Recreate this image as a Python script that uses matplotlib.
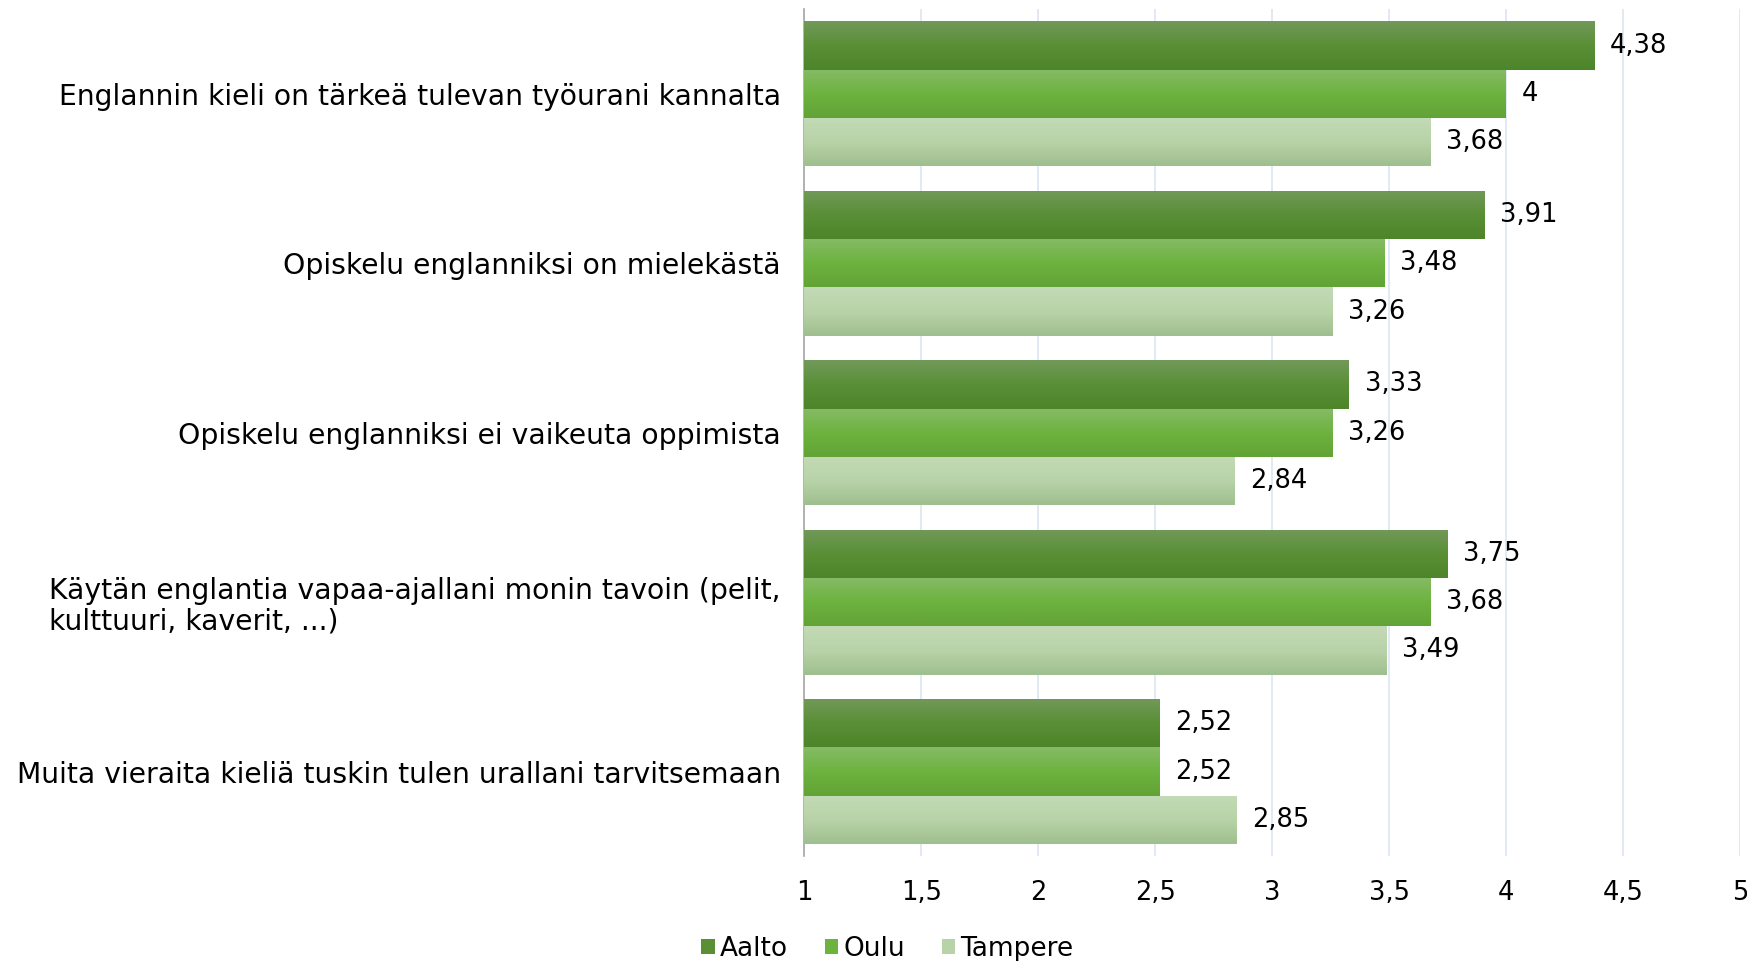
import matplotlib
matplotlib.use('Agg')
import matplotlib.pyplot as plt
import numpy as np
from matplotlib.colors import LinearSegmentedColormap

# data
categories = ['Englannin kieli on tärkeä tulevan työurani kannalta',
              'Opiskelu englanniksi on mielekästä',
              'Opiskelu englanniksi ei vaikeuta oppimista',
              'Käytän englantia vapaa-ajallani monin tavoin (pelit,\nkulttuuri, kaverit, ...)',
              'Muita vieraita kieliä tuskin tulen urallani tarvitsemaan']
series = ['Aalto', 'Oulu', 'Tampere']
aalto = [4.38, 3.91, 3.33, 3.75, 2.52]
oulu = [4.00, 3.48, 3.26, 3.68, 2.52]
tampere = [3.68, 3.26, 2.84, 3.49, 2.85]
ticks = [1, 1.5, 2, 2.5, 3, 3.5, 4, 4.5, 5]

# gradient colours top -> bottom for each series
grads = [('#71995a', '#5a8f36', '#4d852a'),
         ('#86bb66', '#6db33f', '#62a336'),
         ('#c3dab6', '#b8d3a8', '#9fbf8f')]

plt.rcParams['font.family'] = ['DejaVu Sans']

fig = plt.figure(figsize=(17.47, 9.61), dpi=100)
ax = fig.add_axes([0.4605, 0.109, 0.5355, 0.8815])

y = np.arange(len(categories))
h = 0.285
offs = [-h, 0, h]

for vals, off, g, name in zip([aalto, oulu, tampere], offs, grads, series):
    cmap = LinearSegmentedColormap.from_list(name, list(g))
    bars = ax.barh(y + off, np.array(vals) - 1, left=1, height=h,
                   color=g[1], label=name, zorder=2, linewidth=0)
    for b, v in zip(bars, vals):
        x0, y0 = b.get_x(), b.get_y()
        grad = np.linspace(0, 1, 64).reshape(-1, 1)
        im = ax.imshow(grad, cmap=cmap, aspect='auto', zorder=3,
                       extent=(x0, x0 + b.get_width(), y0 + h, y0),
                       origin='upper', interpolation='bilinear')
        im.set_clip_path(b)
        ax.text(v + 0.065, y0 + h / 2, ('%g' % v).replace('.', ','),
                va='center', ha='left', fontsize=18.5, color='#000000', zorder=4)

ax.set_xlim(1, 5)
ax.set_ylim(4.5, -0.5)
ax.set_xticks(ticks)
ax.set_xticklabels([('%g' % t).replace('.', ',') for t in ticks], fontsize=18.5)
ax.set_yticks(y)
ax.set_yticklabels(categories, fontsize=20.3, multialignment='left', linespacing=1.12)
ax.tick_params(axis='x', length=0, pad=17)
ax.tick_params(axis='y', length=0, pad=17)
ax.grid(axis='x', color='#dce6f2', linewidth=1.2, zorder=0)
ax.set_axisbelow(True)
for s in ['top', 'right', 'bottom']:
    ax.spines[s].set_visible(False)
ax.spines['left'].set_color('#a6a6a6')
ax.spines['left'].set_linewidth(1.2)

leg = fig.legend(loc='center', bbox_to_anchor=(0.508, 0.013), ncol=3, frameon=False,
                 fontsize=19, handlelength=0.5, handleheight=0.5,
                 handletextpad=0.2, columnspacing=1.4)

fig.savefig('out.png', dpi=100)
